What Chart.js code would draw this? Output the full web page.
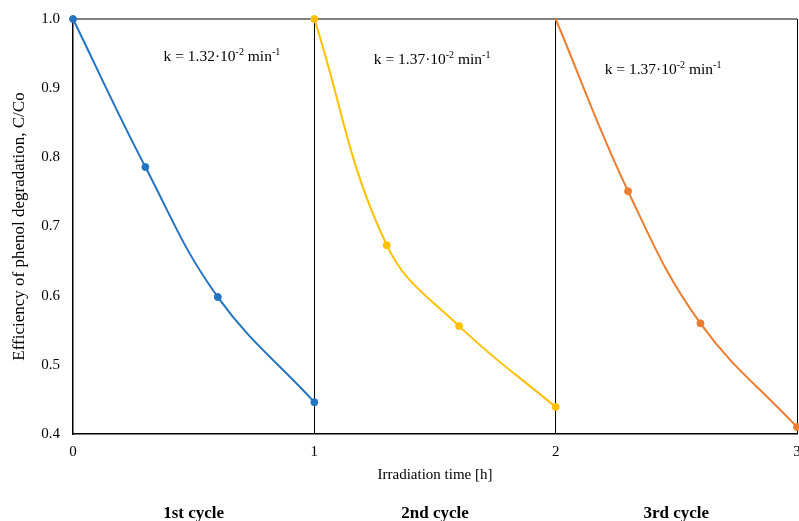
<!DOCTYPE html>
<html>
<head>
<meta charset="utf-8">
<script src="https://cdn.jsdelivr.net/npm/chart.js@4"></script>
<style>
  html, body { margin: 0; padding: 0; background: #fff; overflow: hidden; }
</style>
</head>
<body>
<canvas id="phenolChart" width="799" height="521"></canvas>
<script>
// irradiation time [h] and C/Co for each cycle
const cycle1Time = [0, 0.3, 0.6, 1.0];
const cycle1Values = [1.0, 0.786, 0.598, 0.446];
const cycle2Time = [1.0, 1.3, 1.6, 2.0];
const cycle2Values = [1.0, 0.673, 0.556, 0.439];
const cycle3Time = [2.0, 2.3, 2.6, 3.0];
const cycle3Values = [1.0, 0.751, 0.560, 0.41];

const cycleLabels = ["1st cycle", "2nd cycle", "3rd cycle"];
const cycleCenters = [0.5, 1.5, 2.5];
const rateLabels = ["1.32", "1.37", "1.37"];
const rateX = [0.617, 1.488, 2.445];
const rateY = [0.946, 0.942, 0.928];

const serif = "'Liberation Serif', 'Times New Roman', serif";

function toPoints(xs, ys) {
  return xs.map((x, i) => ({ x: x, y: ys[i] }));
}

const textPlugin = {
  id: "textPlugin",
  afterDraw(chart) {
    const ctx = chart.ctx;
    const xs = chart.scales.x;
    const ys = chart.scales.y;
    ctx.save();
    ctx.fillStyle = "#000";
    ctx.textBaseline = "alphabetic";

    // rate constants
    for (let i = 0; i < rateLabels.length; i++) {
      const parts = [
        { t: "k = " + rateLabels[i] + "\u00b710", size: 15.5, dy: 0 },
        { t: "-2", size: 10, dy: -6 },
        { t: " min", size: 15.5, dy: 0 },
        { t: "-1", size: 10, dy: -6 },
      ];
      let total = 0;
      parts.forEach((p) => {
        ctx.font = p.size + "px " + serif;
        total += ctx.measureText(p.t).width;
      });
      let px = xs.getPixelForValue(rateX[i]) - total / 2;
      const py = ys.getPixelForValue(rateY[i]) + 5;
      ctx.textAlign = "left";
      parts.forEach((p) => {
        ctx.font = p.size + "px " + serif;
        ctx.fillText(p.t, px, py + p.dy);
        px += ctx.measureText(p.t).width;
      });
    }

    // x axis title
    ctx.textAlign = "center";
    ctx.font = "15px " + serif;
    ctx.fillText("Irradiation time [h]", (xs.left + xs.right) / 2, 479);

    // cycle names
    ctx.font = "bold 17px " + serif;
    for (let i = 0; i < cycleLabels.length; i++) {
      ctx.fillText(cycleLabels[i], xs.getPixelForValue(cycleCenters[i]), 518);
    }
    ctx.restore();
  },
};

const ctx = document.getElementById("phenolChart");
new Chart(ctx, {
  type: "scatter",
  data: {
    datasets: [
      {
        label: "1st cycle",
        data: toPoints(cycle1Time, cycle1Values),
        borderColor: "#2474C4",
        backgroundColor: "#2474C4",
      },
      {
        label: "2nd cycle",
        data: toPoints(cycle2Time, cycle2Values),
        borderColor: "#FFC000",
        backgroundColor: "#FFC000",
      },
      {
        label: "3rd cycle",
        data: toPoints(cycle3Time, cycle3Values),
        borderColor: "#ED7D31",
        backgroundColor: "#ED7D31",
        pointRadius: [0, 3.5, 3.5, 3.5],
      },
    ],
  },
  options: {
    responsive: false,
    animation: false,
    layout: { autoPadding: false, padding: { top: 19, right: 2, left: 0, bottom: 0 } },
    elements: {
      line: { borderWidth: 2, tension: 0.4 },
      point: { radius: 3.5, hoverRadius: 3.5 },
    },
    datasets: {
      scatter: { showLine: true, clip: false },
    },
    plugins: {
      legend: { display: false },
      tooltip: { enabled: false },
    },
    scales: {
      x: {
        type: "linear",
        min: 0,
        max: 3,
        ticks: {
          stepSize: 1,
          padding: 9,
          color: "#000",
          font: { family: serif, size: 15 },
        },
        grid: {
          drawTicks: false,
          color: (c) => (c.tick && c.tick.value > 0 ? "#000" : "rgba(0,0,0,0)"),
          lineWidth: 1,
        },
        border: { color: "#000", width: 1.5 },
        afterFit: (scale) => {
          scale.height = 87;
          scale.paddingLeft = 0;
          scale.paddingRight = 0;
        },
      },
      y: {
        min: 0.4,
        max: 1.0,
        ticks: {
          stepSize: 0.1,
          padding: 13,
          color: "#000",
          font: { family: serif, size: 15 },
          callback: (v) => v.toFixed(1),
        },
        grid: {
          drawTicks: false,
          color: (c) => (c.tick && Math.abs(c.tick.value - 1.0) < 1e-6 ? "#808080" : "rgba(0,0,0,0)"),
          lineWidth: 2,
        },
        border: { color: "#000", width: 1.5 },
        title: {
          display: true,
          text: "Efficiency of phenol degradation, C/Co",
          color: "#000",
          font: { family: serif, size: 17 },
          padding: { top: 9, bottom: 0 },
        },
        afterFit: (scale) => {
          scale.width = 73;
          scale.paddingTop = 0;
          scale.paddingBottom = 0;
        },
      },
    },
  },
  plugins: [textPlugin],
});
</script>
</body>
</html>
